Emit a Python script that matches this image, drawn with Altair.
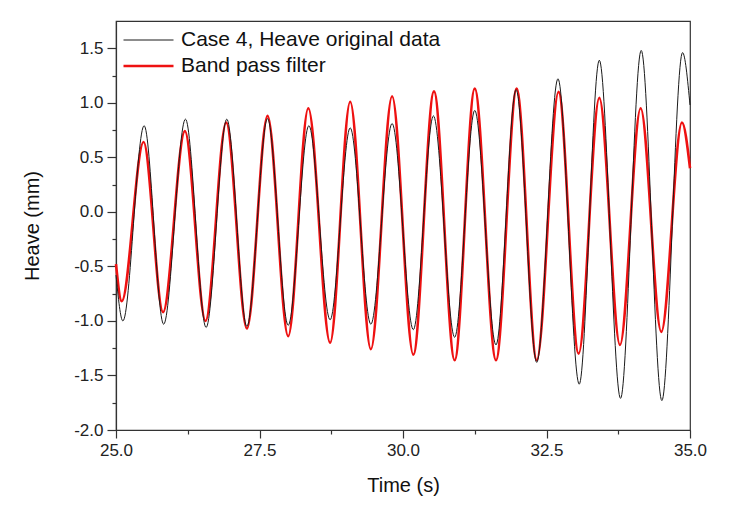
import altair as alt
import pandas as pd

# Band pass filter: extrema (time s, heave mm)
band_t = [25.00, 25.10, 25.48, 25.82, 26.20, 26.56, 26.92, 27.28, 27.64, 28.00,
          28.35, 28.73, 29.08, 29.44, 29.81, 30.18, 30.54, 30.90, 31.25, 31.62,
          31.98, 32.33, 32.71, 33.06, 33.42, 33.78, 34.14, 34.50, 34.86, 35.00]
band_v = [-0.48, -0.82, 0.64, -0.92, 0.74, -1.00, 0.82, -1.07, 0.88, -1.14,
          0.95, -1.20, 1.01, -1.26, 1.06, -1.31, 1.105, -1.36, 1.13, -1.36,
          1.13, -1.36, 1.10, -1.30, 1.045, -1.22, 0.95, -1.10, 0.82, 0.40]

# Case 4, Heave original data
orig_t = [25.00, 25.12, 25.49, 25.83, 26.21, 26.57, 26.93, 27.28, 27.64, 28.00,
          28.36, 28.73, 29.08, 29.44, 29.81, 30.18, 30.53, 30.90, 31.25, 31.62,
          31.97, 32.33, 32.70, 33.07, 33.42, 33.79, 34.15, 34.51, 34.87, 35.00]
orig_v = [-0.58, -1.00, 0.79, -1.03, 0.85, -1.06, 0.85, -1.05, 0.855, -1.04,
          0.79, -0.99, 0.77, -1.03, 0.81, -1.08, 0.88, -1.15, 0.93, -1.22,
          1.12, -1.38, 1.22, -1.58, 1.39, -1.71, 1.48, -1.73, 1.46, 0.98]

series_names = ["Case 4, Heave original data", "Band pass filter"]
series_colors = ["#1a1a1a", "#ee1111"]
series_widths = [1.0, 2.6]

x_ticks = [25.0, 26.25, 27.5, 28.75, 30.0, 31.25, 32.5, 33.75, 35.0]
y_ticks = [-2.0, -1.75, -1.5, -1.25, -1.0, -0.75, -0.5, -0.25, 0.0, 0.25,
           0.5, 0.75, 1.0, 1.25, 1.5]

df_orig = pd.DataFrame({"t": orig_t, "v": orig_v, "series": series_names[0]})
df_band = pd.DataFrame({"t": band_t, "v": band_v, "series": series_names[1]})

FONT = "Liberation Sans"

x_major = "abs((datum.value-25)/2.5 - round((datum.value-25)/2.5)) < 0.001"
y_major = "abs(datum.value*2 - round(datum.value*2)) < 0.001"

x_enc = alt.X(
    "t:Q",
    scale=alt.Scale(domain=[25, 35], nice=False, zero=False),
    axis=alt.Axis(
        title="Time (s)", values=x_ticks, grid=False,
        labelExpr=f"{x_major} ? replace(format(datum.value, '.1f'), '\u2212', '-') : ''",
        tickSize={"condition": {"test": x_major, "value": 8}, "value": 4},
        labelFontSize=17, titleFontSize=20, titleFontWeight="normal",
        labelFont=FONT, titleFont=FONT, labelColor="#222", titleColor="#111",
        domainColor="#333", tickColor="#333", domainWidth=1.2, tickWidth=1.2,
        labelPadding=4, titlePadding=17, labelFlush=False,
    ),
)
y_enc = alt.Y(
    "v:Q",
    scale=alt.Scale(domain=[-2.0, 1.75], nice=False, zero=False),
    axis=alt.Axis(
        title="Heave (mm)", values=y_ticks, grid=False,
        labelExpr=f"{y_major} ? replace(format(datum.value, '.1f'), '\u2212', '-') : ''",
        tickSize={"condition": {"test": y_major, "value": 9}, "value": 4},
        labelFontSize=17, titleFontSize=20, titleFontWeight="normal",
        labelFont=FONT, titleFont=FONT, labelColor="#222", titleColor="#111",
        domainColor="#333", tickColor="#333", domainWidth=1.2, tickWidth=1.2,
        labelPadding=4, titlePadding=31, labelFlush=False,
    ),
)
color_enc = alt.Color(
    "series:N",
    scale=alt.Scale(domain=series_names, range=series_colors),
    legend=alt.Legend(
        title=None, orient="none", legendX=6, legendY=8,
        symbolType="stroke", symbolSize=2500, clipHeight=22,
        labelFontSize=21, labelFont=FONT, labelLimit=0,
        labelColor="#111", rowPadding=4, labelOffset=6,
    ),
)
sw_enc = alt.StrokeWidth(
    "series:N",
    scale=alt.Scale(domain=series_names, range=series_widths),
    legend=None,
)

band = alt.Chart(df_band).mark_line(interpolate="monotone").encode(
    x=x_enc, y=y_enc, color=color_enc, strokeWidth=sw_enc
)
orig = alt.Chart(df_orig).mark_line(interpolate="monotone").encode(
    x=x_enc, y=y_enc, color=color_enc, strokeWidth=sw_enc
)

chart = alt.layer(band, orig).properties(
    width=574, height=409,
    autosize=alt.AutoSizeParams(type="none"),
    padding={"left": 108, "top": 13, "right": 48, "bottom": 72},
    background="white",
).configure_view(stroke="#333", strokeWidth=1.2)

chart.save("out.html", embed_options={"renderer": "svg", "actions": False})
